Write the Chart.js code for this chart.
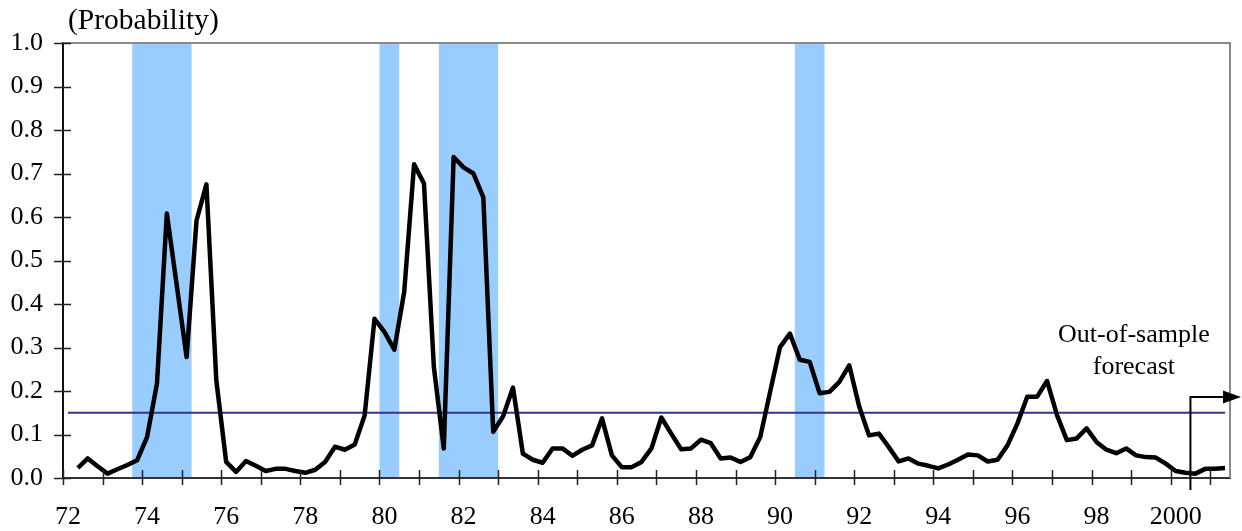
<!DOCTYPE html>
<html>
<head>
<meta charset="utf-8">
<script src="https://cdn.jsdelivr.net/npm/chart.js@4.4.0/dist/chart.umd.min.js"></script>
<style>
  html, body { margin: 0; padding: 0; background: #fff; }
  canvas { display: block; }
</style>
</head>
<body>
<canvas id="probChart" width="1242" height="531"></canvas>
<script>
// ---------------- data ----------------

// quarterly recession probability, 1972 Q2 .. 2001 Q2
const firstQuarter = 1972.25;
const probability = [
  0.023, 0.045, 0.027,
  0.010, 0.020, 0.030, 0.041, // 73
  0.094, 0.217, 0.608, 0.443, // 74
  0.278, 0.592, 0.675, 0.225, // 75
  0.037, 0.014, 0.039, 0.028, // 76
  0.016, 0.021, 0.021, 0.016, // 77
  0.012, 0.019, 0.037, 0.072, // 78
  0.065, 0.077, 0.144, 0.366, // 79
  0.336, 0.295, 0.428, 0.721, // 80
  0.677, 0.255, 0.068, 0.738, // 81
  0.714, 0.700, 0.645, 0.106, // 82
  0.142, 0.208, 0.056, 0.042, // 83
  0.035, 0.068, 0.068, 0.051, // 84
  0.065, 0.075, 0.137, 0.052, // 85
  0.025, 0.025, 0.037, 0.068, // 86
  0.139, 0.102, 0.066, 0.068, // 87
  0.088, 0.080, 0.045, 0.047, // 88
  0.037, 0.048, 0.094, 0.198, // 89
  0.301, 0.332, 0.272, 0.267, // 90
  0.195, 0.198, 0.221, 0.259, // 91
  0.165, 0.098, 0.102, 0.071, // 92
  0.038, 0.045, 0.033, 0.028, // 93
  0.022, 0.031, 0.042, 0.054, // 94
  0.052, 0.038, 0.042, 0.075, // 95
  0.125, 0.187, 0.187, 0.223, // 96
  0.145, 0.087, 0.091, 0.114, // 97
  0.083, 0.065, 0.057, 0.068, // 98
  0.052, 0.048, 0.047, 0.033, // 99
  0.016, 0.012, 0.010, 0.021, // 2000
  0.021, 0.023,               // 2001
];

// threshold line, 1972 Q1 .. 2001 Q2
const thresholdLevel = 0.15;
const thresholdFrom = 1972.0;
const thresholdTo = 2001.25;

// recessions (start of first quarter, end of last quarter)
const recessionStart = [1973.75, 1980.0, 1981.5, 1990.5];
const recessionEnd = [1975.25, 1980.5, 1983.0, 1991.25];

// forecast period begins 2000 Q3
const forecastStart = 2000.5;
const forecastLevel = 0.186;
const forecastNote = ["Out-of-sample", "forecast"];

// axes
const tickYears = [];
for (let yr = 1972; yr <= 2001; yr++) tickYears.push(yr);
const labelYears = [1972, 1974, 1976, 1978, 1980, 1982, 1984, 1986, 1988, 1990, 1992, 1994, 1996, 1998, 2000];
const xTickLabels = ["72", "74", "76", "78", "80", "82", "84", "86", "88", "90", "92", "94", "96", "98", "2000"];
const yTickLabels = ["0.0", "0.1", "0.2", "0.3", "0.4", "0.5", "0.6", "0.7", "0.8", "0.9", "1.0"];
const yTitle = "(Probability)";

// ---------------- chart ----------------

const FONT = "'Liberation Serif', 'Times New Roman', serif";
const midQuarter = (start) => start + 0.125;

const probPoints = probability.map((v, i) => ({ x: midQuarter(firstQuarter + i / 4), y: v }));
const thresholdPoints = [
  { x: midQuarter(thresholdFrom), y: thresholdLevel },
  { x: midQuarter(thresholdTo), y: thresholdLevel },
];

// light blue recession shading, drawn below everything
const recessionBands = {
  id: "recessionBands",
  beforeDraw(chart) {
    const { ctx, chartArea, scales } = chart;
    ctx.save();
    ctx.fillStyle = "#99ccff";
    recessionStart.forEach((s, i) => {
      const x0 = scales.x.getPixelForValue(s);
      const x1 = scales.x.getPixelForValue(recessionEnd[i]);
      ctx.fillRect(x0, chartArea.top, x1 - x0, chartArea.bottom - chartArea.top);
    });
    ctx.restore();
  },
};

// plot frame, crossing tick marks, title, forecast arrow and note
const decorations = {
  id: "decorations",
  afterDraw(chart) {
    const { ctx, chartArea, scales } = chart;
    const { left, right, top, bottom } = chartArea;
    ctx.save();

    // gray top/right frame
    ctx.strokeStyle = "#8a8a8a";
    ctx.lineWidth = 2;
    ctx.beginPath();
    ctx.moveTo(left, top);
    ctx.lineTo(right, top);
    ctx.lineTo(right, bottom);
    ctx.stroke();

    // tick marks that cross the axes
    ctx.strokeStyle = "#222";
    ctx.lineWidth = 1.5;
    ctx.beginPath();
    scales.x.ticks.forEach((t) => {
      const px = Math.round(scales.x.getPixelForValue(t.value)) + 0.5;
      ctx.moveTo(px, bottom - 8);
      ctx.lineTo(px, bottom + 7);
    });
    scales.y.ticks.forEach((t) => {
      const py = Math.round(scales.y.getPixelForValue(t.value)) + 0.5;
      ctx.moveTo(left - 9, py);
      ctx.lineTo(left + 8, py);
    });
    ctx.stroke();

    // forecast arrow
    const fx = scales.x.getPixelForValue(forecastStart);
    const fy = scales.y.getPixelForValue(forecastLevel);
    ctx.strokeStyle = "#000";
    ctx.lineWidth = 2;
    ctx.beginPath();
    ctx.moveTo(fx, bottom + 12);
    ctx.lineTo(fx, fy);
    ctx.lineTo(right - 6, fy);
    ctx.stroke();
    ctx.fillStyle = "#000";
    ctx.beginPath();
    ctx.moveTo(right + 11, fy);
    ctx.lineTo(right - 7, fy - 6.5);
    ctx.lineTo(right - 7, fy + 6.5);
    ctx.closePath();
    ctx.fill();

    // texts
    ctx.fillStyle = "#000";
    ctx.font = "29.5px " + FONT;
    ctx.textAlign = "left";
    ctx.textBaseline = "alphabetic";
    ctx.fillText(yTitle, left + 5, 29);

    ctx.font = "26px " + FONT;
    ctx.textAlign = "center";
    ctx.textBaseline = "middle";
    const nx = scales.x.getPixelForValue(1999.07);
    ctx.fillText(forecastNote[0], nx, scales.y.getPixelForValue(0.328));
    ctx.fillText(forecastNote[1], nx, scales.y.getPixelForValue(0.255));

    ctx.restore();
  },
};

const ctx = document.getElementById("probChart").getContext("2d");

const probChart = new Chart(ctx, {
  type: "line",
  data: {
    datasets: [
      {
        label: "Probability",
        data: probPoints,
        borderColor: "#000",
        borderWidth: 4.5,
        borderJoinStyle: "round",
        pointRadius: 0,
        tension: 0,
        fill: false,
      },
      {
        label: "Threshold",
        data: thresholdPoints,
        borderColor: "#333399",
        borderWidth: 2,
        pointRadius: 0,
        fill: false,
      },
    ],
  },
  options: {
    responsive: false,
    animation: false,
    layout: { padding: { top: 43, right: 12, left: 0, bottom: 0 } },
    plugins: {
      legend: { display: false },
      tooltip: { enabled: false },
    },
    scales: {
      x: {
        type: "linear",
        min: 1972,
        max: 2001.5,
        afterBuildTicks: (scale) => {
          scale.ticks = tickYears.map((v) => ({ value: v }));
        },
        afterFit: (scale) => {
          scale.height = 53;
        },
        grid: { display: true, drawOnChartArea: false, drawTicks: false },
        border: { display: true, color: "#333", width: 2 },
        ticks: {
          autoSkip: false,
          maxRotation: 0,
          padding: 24,
          labelOffset: 5,
          color: "#000",
          font: { family: FONT, size: 26 },
          callback: (value) => {
            const i = labelYears.indexOf(value);
            return i >= 0 ? xTickLabels[i] : "";
          },
        },
      },
      y: {
        min: 0,
        max: 1,
        afterFit: (scale) => {
          scale.width = 63;
        },
        grid: { display: true, drawOnChartArea: false, drawTicks: false },
        border: { display: true, color: "#111", width: 2 },
        ticks: {
          stepSize: 0.1,
          padding: 20,
          color: "#000",
          font: { family: FONT, size: 26 },
          callback: (value, index) => yTickLabels[index],
        },
      },
    },
  },
  plugins: [recessionBands, decorations],
});
</script>
</body>
</html>
